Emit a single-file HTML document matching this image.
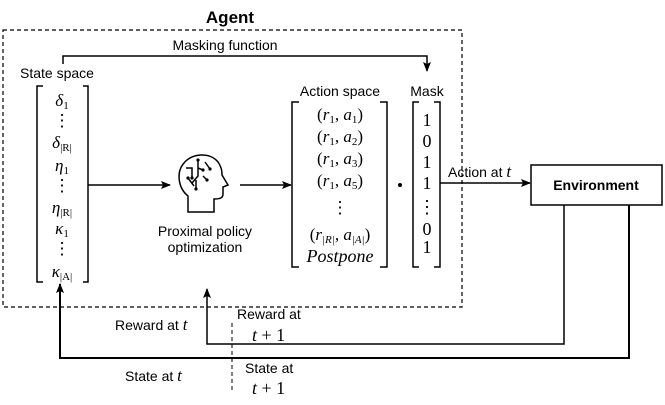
<!DOCTYPE html>
<html><head><meta charset="utf-8"><style>
html,body{margin:0;padding:0;background:#fff}
svg text{font-family:"Liberation Sans",sans-serif;fill:#000}
svg .r, svg .r text, svg .r tspan{font-family:"Liberation Serif",serif;font-style:normal}
svg .m, svg .r .m, svg text.m{font-family:"Liberation Serif",serif;font-style:italic}
svg .m .r, svg text.m tspan.r{font-style:normal}
</style></head><body>
<svg width="665" height="400" viewBox="0 0 665 400" xmlns="http://www.w3.org/2000/svg">
<defs><marker id="a" markerWidth="10" markerHeight="8" refX="9" refY="4" orient="auto" markerUnits="userSpaceOnUse"><path d="M0,0 L10,4 L0,8 L2,4Z" fill="#000"/></marker></defs>
<rect x="3" y="30" width="459" height="277" fill="none" stroke="#000" stroke-width="1.2" stroke-dasharray="4,3"/>
<text x="230" y="23" font-size="17" font-weight="bold" text-anchor="middle">Agent</text>
<text x="225" y="50" font-size="14" text-anchor="middle">Masking function</text>
<path d="M63,64 V56 H427 V71" fill="none" stroke="#000" stroke-width="1.5" marker-end="url(#a)"/>
<text x="20" y="78" font-size="14">State space</text>
<path d="M43,86 H37 V282 H43 M83,86 H88 V282 H83" fill="none" stroke="#000" stroke-width="1.5"/>
<g class="r" font-size="17" text-anchor="middle">
<text x="62" y="106" class="m">δ<tspan font-size="11" dy="3" class="r">1</tspan></text>
<text x="62" y="126">⋮</text>
<text x="62" y="148" class="m">δ<tspan font-size="11" dy="3">|R|</tspan></text>
<text x="62" y="171" class="m">η<tspan font-size="11" dy="3" class="r">1</tspan></text>
<text x="62" y="191">⋮</text>
<text x="62" y="213" class="m">η<tspan font-size="11" dy="3">|R|</tspan></text>
<text x="62" y="234" class="m">κ<tspan font-size="11" dy="3" class="r">1</tspan></text>
<text x="62" y="254">⋮</text>
<text x="62" y="277" class="m">κ<tspan font-size="11" dy="3">|A|</tspan></text>
</g>
<line x1="88" y1="185" x2="170" y2="185" stroke="#000" stroke-width="1.5" marker-end="url(#a)"/>
<g fill="none" stroke="#000" stroke-width="1.5">
<path d="M188,212 V196 C178,188 176,172 184,163 C192,153 210,152 218,162 C222,168 222,172 222,175 L228,185 L223,187 V194 C223,198 220,199 214,199 V212 Z"/>
<path d="M186,168 H192 V178 M198,160 V176 L192,183 M198,168 L203,170 M205,162 L210,169 M203,176 L207,180 M196,180 L196,189 M188,178 L194,186"/>
</g>
<g fill="#000"><circle cx="198" cy="160" r="1.6"/><circle cx="192" cy="178" r="1.6"/><circle cx="203" cy="170" r="1.6"/><circle cx="210" cy="169" r="1.6"/><circle cx="207" cy="180" r="1.6"/><circle cx="196" cy="189" r="1.6"/><circle cx="188" cy="178" r="1.6"/></g>
<text x="205" y="236" font-size="14" text-anchor="middle">Proximal policy</text>
<text x="205" y="252" font-size="14" text-anchor="middle">optimization</text>
<line x1="240" y1="185" x2="291" y2="185" stroke="#000" stroke-width="1.5" marker-end="url(#a)"/>
<text x="340" y="96" font-size="14" text-anchor="middle">Action space</text>
<path d="M299,102 H292 V267 H299 M380,102 H387 V267 H380" fill="none" stroke="#000" stroke-width="1.5"/>
<g font-size="17" text-anchor="middle" class="r">
<text x="340" y="120">(<tspan class="m">r</tspan><tspan font-size="11" dy="3">1</tspan><tspan dy="-3">, </tspan><tspan class="m">a</tspan><tspan font-size="11" dy="3">1</tspan><tspan dy="-3">)</tspan></text>
<text x="340" y="142">(<tspan class="m">r</tspan><tspan font-size="11" dy="3">1</tspan><tspan dy="-3">, </tspan><tspan class="m">a</tspan><tspan font-size="11" dy="3">2</tspan><tspan dy="-3">)</tspan></text>
<text x="340" y="164">(<tspan class="m">r</tspan><tspan font-size="11" dy="3">1</tspan><tspan dy="-3">, </tspan><tspan class="m">a</tspan><tspan font-size="11" dy="3">3</tspan><tspan dy="-3">)</tspan></text>
<text x="340" y="186">(<tspan class="m">r</tspan><tspan font-size="11" dy="3">1</tspan><tspan dy="-3">, </tspan><tspan class="m">a</tspan><tspan font-size="11" dy="3">5</tspan><tspan dy="-3">)</tspan></text>
<text x="340" y="213">⋮</text>
<text x="340" y="240">(<tspan class="m">r</tspan><tspan font-size="11" dy="3" class="m">|R|</tspan><tspan dy="-3">, </tspan><tspan class="m">a</tspan><tspan font-size="11" dy="3" class="m">|A|</tspan><tspan dy="-3">)</tspan></text>
<text x="340" y="262" class="m" font-size="18">Postpone</text>
</g>
<circle cx="400" cy="185" r="2" fill="#000"/>
<text x="427" y="96" font-size="14" text-anchor="middle">Mask</text>
<path d="M419,102 H413 V267 H419 M434,102 H440 V267 H434" fill="none" stroke="#000" stroke-width="1.5"/>
<g font-size="18" text-anchor="middle" class="r">
<text x="427" y="126">1</text><text x="427" y="147">0</text><text x="427" y="168">1</text><text x="427" y="189">1</text>
<text x="427" y="213">⋮</text><text x="427" y="235">0</text><text x="427" y="253">1</text>
</g>
<line x1="440" y1="183" x2="530" y2="183" stroke="#000" stroke-width="1.5" marker-end="url(#a)"/>
<text x="448" y="177" font-size="14">Action at <tspan class="m" font-size="17">t</tspan></text>
<rect x="531" y="165" width="131" height="40" fill="#fff" stroke="#000" stroke-width="1.5"/>
<text x="596" y="190" font-size="14" font-weight="bold" text-anchor="middle">Environment</text>
<path d="M564,205 V344 H207 V289" fill="none" stroke="#000" stroke-width="1.5" marker-end="url(#a)"/>
<path d="M629,205 V358 H60 V284" fill="none" stroke="#000" stroke-width="2" marker-end="url(#a)"/>
<line x1="232" y1="323" x2="232" y2="392" stroke="#000" stroke-width="1" stroke-dasharray="4,3"/>
<text x="115" y="330" font-size="14">Reward at <tspan class="m" font-size="17">t</tspan></text>
<text x="237" y="319" font-size="14">Reward at</text>
<text x="252" y="341" font-size="18" class="m">t <tspan class="r">+ 1</tspan></text>
<text x="125" y="381" font-size="14">State at <tspan class="m" font-size="17">t</tspan></text>
<text x="245" y="373" font-size="14">State at</text>
<text x="252" y="394" font-size="18" class="m">t <tspan class="r">+ 1</tspan></text>
</svg>
</body></html>
